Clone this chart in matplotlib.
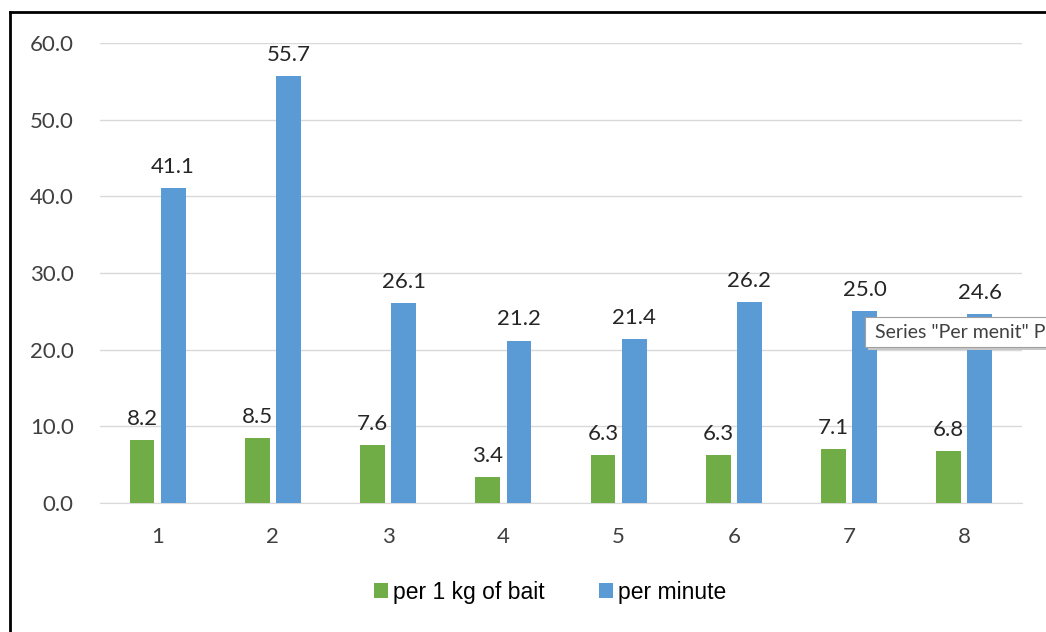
import matplotlib.pyplot as plt
from matplotlib.lines import Line2D
from matplotlib.patches import Rectangle
import numpy as np

categories = ['1', '2', '3', '4', '5', '6', '7', '8']
per_kg_bait = [8.2, 8.5, 7.6, 3.4, 6.3, 6.3, 7.1, 6.8]
per_minute = [41.1, 55.7, 26.1, 21.2, 21.4, 26.2, 25.0, 24.6]

green = '#70AD47'
blue = '#5B9BD5'

W, H = 1046, 632
fig = plt.figure(figsize=(10.46, 6.32), dpi=100)
ax = fig.add_axes([0.0956, 0.204, 0.8814, 0.728])

x = np.arange(len(categories))
w = 0.215
off = 0.135
b1 = ax.bar(x - off, per_kg_bait, w, color=green, label='per 1 kg of bait', zorder=3)
b2 = ax.bar(x + off, per_minute, w, color=blue, label='per minute', zorder=3)

for bars, vals in [(b1, per_kg_bait), (b2, per_minute)]:
    for r, v in zip(bars, vals):
        ax.annotate(f'{v:.1f}', (r.get_x() + r.get_width() / 2, v),
                    xytext=(0, 8), textcoords='offset points',
                    ha='center', va='bottom', fontsize=16, family='Lato',
                    color='#262626', zorder=4)

ax.set_xlim(-0.5, len(categories) - 0.5)
ax.set_ylim(0, 60)
ax.set_yticks(np.arange(0, 61, 10))
ax.set_yticklabels([f'{t:.1f}' for t in np.arange(0, 61, 10)])
ax.set_xticks(x)
ax.set_xticklabels(categories)
ax.tick_params(length=0, labelsize=16, colors='#404040', pad=17)
ax.tick_params(axis='y', pad=19)
for lab in ax.get_xticklabels() + ax.get_yticklabels():
    lab.set_family('Lato')
ax.grid(axis='y', color='#D9D9D9', linewidth=1, zorder=0)
for s in ['top', 'right', 'left']:
    ax.spines[s].set_visible(False)
ax.spines['bottom'].set_color('#D9D9D9')

fig.legend(handles=[b1, b2], loc='center', bbox_to_anchor=(0.526, 0.063), ncol=2,
           frameon=False, prop={'family': 'Liberation Sans', 'size': 16.5},
           handlelength=0.6, handleheight=0.6, handletextpad=0.2, columnspacing=2.4)

# black frame on top and left
fig.add_artist(Line2D([10 / W, 1], [1 - 12 / H, 1 - 12 / H], color='black', lw=2, transform=fig.transFigure))
fig.add_artist(Line2D([10 / W, 10 / W], [0, 1 - 12 / H], color='black', lw=2, transform=fig.transFigure))

# Excel tooltip left in the screenshot (cut at the right edge)
fig.add_artist(Rectangle((868 / W, 1 - 350 / H), 200 / W, 30 / H, transform=fig.transFigure,
                         fc='#C8C8C8', ec='none', zorder=9))
fig.add_artist(Rectangle((865 / W, 1 - 347 / H), 200 / W, 30 / H, transform=fig.transFigure,
                         fc='white', ec='#A0A0A0', lw=0.8, zorder=10))
fig.text(875 / W, 1 - 333 / H, 'Series "Per menit" P', fontsize=14, family='Lato',
         color='#404040', va='center', ha='left', zorder=11)

fig.savefig('out.png', dpi=100)
